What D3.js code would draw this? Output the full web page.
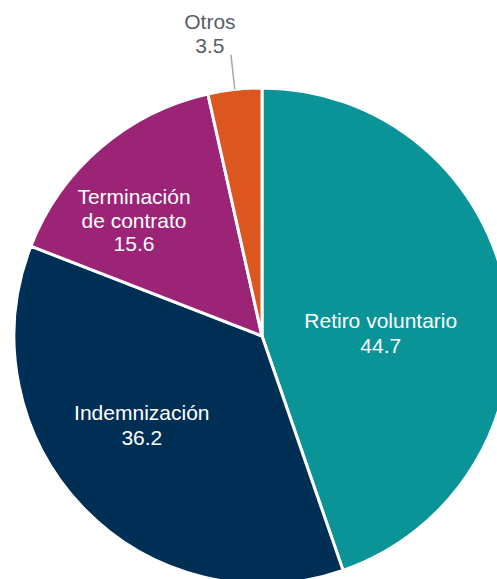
<!DOCTYPE html>
<html><head><meta charset="utf-8">
<script src="https://cdn.jsdelivr.net/npm/d3@7"></script>
<style>html,body{margin:0;padding:0;background:#fff;overflow:hidden}</style>
</head><body>
<svg id="chart" width="497" height="579"></svg>
<script>
const categories = ["Retiro voluntario", "Indemnización", "Terminación de contrato", "Otros"];
const labelLines = [["Retiro voluntario"], ["Indemnización"], ["Terminación", "de contrato"], ["Otros"]];
const values = [44.7, 36.2, 15.6, 3.5];
const colors = ["#0a9498", "#002f55", "#9c2477", "#dc561f"];

const W = 497, H = 579;
const cx = 262, cy = 336, R = 248;
const svg = d3.select("#chart");
const g = svg.append("g").attr("transform", `translate(${cx},${cy})`);

const pie = d3.pie().sort(null).value(d => d);
const arcs = pie(values);
const arc = d3.arc().innerRadius(0).outerRadius(R);
const labelArc = d3.arc().innerRadius(R * 0.6).outerRadius(R * 0.6);

g.selectAll("path.slice").data(arcs).enter().append("path")
  .attr("class", "slice")
  .attr("d", arc)
  .attr("fill", (d, i) => colors[i])
  .attr("stroke", "#fff")
  .attr("stroke-width", 3)
  .attr("stroke-linejoin", "round");

// label offsets (style) relative to label-arc centroid
const offsets = [[-28, 17], [-13, -19], [-31, -19]];
const lineH = [25, 25, 23.5];
const fontFamily = "'Liberation Sans', Arial, sans-serif";
const fs = 21;

arcs.forEach((d, i) => {
  if (i < 3) {
    const c = labelArc.centroid(d);
    const x = c[0] + offsets[i][0], y = c[1] + offsets[i][1];
    const lines = labelLines[i].concat([values[i].toFixed(1)]);
    const t = g.append("text").attr("text-anchor", "middle")
      .attr("font-family", fontFamily).attr("font-size", fs).attr("fill", "#ffffff");
    lines.forEach((s, k) => t.append("tspan").attr("x", x).attr("y", y + k * lineH[i]).text(s));
  } else {
    const mid = (d.startAngle + d.endAngle) / 2;
    const p0 = [Math.sin(mid) * R, -Math.cos(mid) * R];
    const p1 = [Math.sin(mid) * (R + 35), -Math.cos(mid) * (R + 35)];
    g.append("line").attr("x1", p0[0]).attr("y1", p0[1]).attr("x2", p1[0]).attr("y2", p1[1])
      .attr("stroke", "#a6a6a6").attr("stroke-width", 1.5);
    const x = p1[0] - 21, y = p1[1] - 25.5;
    const lines = labelLines[i].concat([values[i].toFixed(1)]);
    const t = g.append("text").attr("text-anchor", "middle")
      .attr("font-family", fontFamily).attr("font-size", fs).attr("fill", "#595f66");
    lines.forEach((s, k) => t.append("tspan").attr("x", x).attr("y", y + k * 24).text(s));
  }
});
</script>
</body></html>
